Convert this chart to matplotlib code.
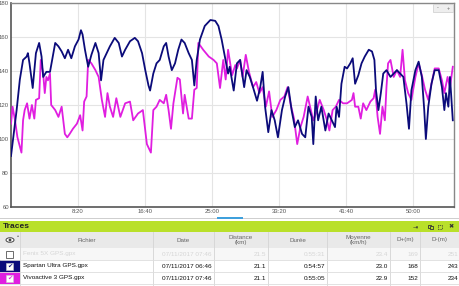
import matplotlib
matplotlib.use("Agg")
import matplotlib.pyplot as plt
from matplotlib.patches import Rectangle, Ellipse, Circle
from matplotlib.ticker import FuncFormatter

plt.rcParams['font.family'] = ['Liberation Sans', 'DejaVu Sans']

# Fréquence cardiaque (minutes, bpm) - Spartan Ultra
spartan_t = [0.0, 0.7, 1.1, 1.5, 1.95, 2.1, 2.3, 2.7, 3.1, 3.5, 3.8, 4.0, 4.4, 4.85,
             5.2, 5.5, 5.9, 6.3, 6.7, 7.1, 7.5, 7.95, 8.4, 8.7, 8.9, 9.2, 9.6, 10.0,
             10.5, 10.9, 11.2, 11.5, 11.9, 12.3, 12.9, 13.4, 13.8, 14.2, 14.8, 15.4,
             15.8, 16.3, 16.7, 17.1, 17.3, 17.7, 18.1, 18.5, 19.0, 19.3, 19.6, 20.0,
             20.4, 20.8, 21.2, 21.6, 22.1, 22.5, 22.8, 23.1, 23.5, 24.1, 24.8, 25.4,
             25.8, 26.2, 26.6, 27.0, 27.2, 27.7, 28.1, 28.5, 29.0, 29.3, 29.7, 30.1,
             30.6, 31.0, 31.3, 31.6, 32.0, 32.4, 32.8, 33.2, 33.7, 34.1, 34.5, 34.9,
             35.3, 35.7, 36.2, 36.6, 37.0, 37.4, 37.6, 37.9, 38.2, 38.6, 39.1, 39.5,
             39.9, 40.3, 40.5, 40.8, 41.1, 41.5, 41.8, 42.2, 42.5, 42.8, 43.2, 43.6,
             44.0, 44.5, 44.9, 45.2, 45.4, 45.7, 46.0, 46.3, 46.7, 47.2, 47.6, 48.0,
             48.4, 48.8, 49.2, 49.5, 49.8, 50.3, 50.7, 51.1, 51.4, 51.6, 51.9, 52.3,
             52.7, 53.2, 53.6, 53.9, 54.1, 54.4, 54.6, 54.95]
spartan_hr = [90, 117, 135, 146.5, 148.5, 150.5, 144.5, 130, 150.5, 156.5, 148.5, 136.5,
              139.5, 139.5, 148.5, 156.5, 154.5, 151.5, 147.5, 152.5, 147.5, 154.5,
              158.5, 164, 161.5, 152.5, 142.5, 149.5, 156.5, 150.5, 134.5, 146.5, 150.5,
              154.5, 159.5, 156.5, 148.5, 152.5, 157.5, 159.5, 157.5, 150.5, 140.5,
              131.5, 128.5, 138.5, 144.5, 146.5, 154.5, 156.5, 148.5, 140.5, 144.5,
              152.5, 158.5, 156.5, 150.5, 146.5, 131.5, 146.5, 158.5, 166.5, 170,
              169.5, 166.5, 158.5, 148.5, 138.5, 142.5, 128.5, 144.5, 146.5, 130.5,
              140.5, 136.5, 130.5, 122.5, 130.5, 139.5, 119, 104, 117, 111, 101, 117,
              125, 130.5, 117, 107, 111, 103, 101, 119, 113, 97, 125, 111, 119, 105,
              115, 111, 107, 119, 113, 132.5, 142.5, 141.5, 144.5, 147.5, 132.5, 137.5,
              144.5, 148.5, 152.5, 151.5, 146.5, 128.5, 117, 127, 138.5, 140.5, 136.5,
              138.5, 140.5, 138.5, 136.5, 120.5, 106, 128.5, 140.5, 145.5, 136.5, 117,
              100, 119, 132.5, 140.5, 140.5, 130.5, 117, 127, 119, 136.5, 111]

# Fréquence cardiaque (minutes, bpm) - Vivoactive 3
vivo_t = [0.0, 0.2, 0.5, 0.8, 1.3, 1.5, 1.7, 2.0, 2.3, 2.6, 2.9, 3.1, 3.5, 3.7, 4.0,
          4.2, 4.4, 4.6, 4.85, 5.0, 5.5, 5.9, 6.3, 6.7, 7.0, 7.3, 7.7, 8.2, 8.6, 8.9,
          9.1, 9.4, 9.6, 10.0, 10.5, 10.9, 11.3, 11.7, 12.0, 12.3, 12.7, 13.1, 13.6,
          14.2, 14.8, 15.2, 15.8, 16.4, 16.9, 17.4, 17.7, 18.1, 18.5, 19.0, 19.3,
          19.6, 19.9, 20.2, 20.7, 21.0, 21.4, 21.6, 22.1, 22.5, 22.8, 23.1, 23.3,
          23.9, 24.6, 25.2, 25.6, 26.0, 26.4, 26.7, 27.0, 27.5, 27.9, 28.1, 28.5,
          28.8, 29.2, 29.6, 30.1, 30.5, 30.9, 31.3, 31.7, 32.1, 32.5, 33.0, 33.5,
          34.0, 34.4, 34.8, 35.2, 35.6, 36.0, 36.4, 36.9, 37.2, 37.6, 38.0, 38.4,
          38.9, 39.3, 39.6, 40.0, 40.4, 40.8, 41.3, 41.8, 42.4, 42.6, 42.8, 43.2,
          43.5, 43.8, 44.2, 44.7, 45.1, 45.3, 45.6, 45.9, 46.2, 46.5, 46.7, 46.9,
          47.2, 47.6, 48.0, 48.4, 48.7, 49.0, 49.4, 49.8, 50.3, 50.7, 51.1, 51.5,
          51.9, 52.3, 52.7, 53.2, 53.6, 53.9, 54.3, 54.6, 54.95]
vivo_hr = [109, 119, 111, 101, 92, 111, 117, 121, 112, 120, 112, 123, 124, 146.5, 138.5,
           127, 136.5, 134.5, 138.5, 120, 117, 113, 119, 103, 101, 103, 106, 109, 114,
           105, 122, 125, 146.5, 144.5, 140.5, 136.5, 123, 113, 127, 119, 113, 124,
           113, 121, 122, 111, 115, 117, 97, 92, 117, 119, 123, 121, 126, 117, 106,
           121, 136, 135, 115, 126, 112, 112, 129, 130, 156.5, 152.5, 148.5, 146.5,
           144.5, 130, 146.5, 135, 152.5, 137.5, 143.5, 141.5, 146.5, 136.5, 149.5,
           139.5, 130.5, 133.5, 127, 130.5, 119, 128, 113, 117, 123, 125, 130.5, 120,
           112, 97, 107, 113, 125, 119, 111, 116, 123, 117, 111, 105, 117, 119, 123,
           121, 121, 123, 127, 119, 119, 112, 121, 117, 122, 124, 129, 113, 103, 119,
           111, 130.5, 144.5, 146.5, 136.5, 140.5, 136.5, 152.5, 134.5, 127, 123,
           136.5, 144.5, 137.5, 129, 123, 132.5, 141.5, 141.5, 134.5, 127, 136.5,
           130.5, 142.5]

y_ticks = [60, 80, 100, 120, 140, 160, 180]
x_ticks_s = [500, 1000, 1500, 2000, 2500, 3000]

columns = ['Fichier', 'Date', 'Distance\n(km)', 'Durée', 'Moyenne\n(km/h)', 'D+(m)', 'D-(m)']
files = ['Fenix 5X GPS.gpx', 'Spartan Ultra GPS.gpx', 'Vivoactive 3 GPS.gpx']
dates = ['07/11/2017 07:46', '07/11/2017 06:46', '07/11/2017 07:46']
distances = ['21.5', '21.1', '21.1']
durations = ['0:55:31', '0:54:57', '0:55:05']
speeds = ['23.4', '23.0', '22.9']
d_plus = ['169', '168', '152']
d_minus = ['251', '243', '234']
row_colors = [None, '#0b0b7a', '#e01ee0']

W, H = 460, 286
fig = plt.figure(figsize=(W / 100, H / 100), dpi=100)

# --- graphique ---
ax = fig.add_axes([11 / W, 1 - 207 / H, 443 / W, 204 / H])
ax.plot(vivo_t, vivo_hr, color='#e01ee0', lw=1.3, zorder=3)
ax.plot(spartan_t, spartan_hr, color='#0b0b7a', lw=1.3, zorder=4)
ax.set_xlim(0, 55.1)
ax.set_ylim(60, 180)
ax.set_yticks(y_ticks)
ax.set_xticks([s / 60 for s in x_ticks_s])
ax.xaxis.set_major_formatter(FuncFormatter(lambda v, p: '%d:%02d' % (int(round(v * 60)) // 60, int(round(v * 60)) % 60)))
ax.tick_params(length=0, labelsize=4.3, labelcolor='#555555', pad=1.5)
ax.grid(color='#e4e4e4', lw=0.8)
ax.set_axisbelow(True)
for s in ['left', 'bottom']:
    ax.spines[s].set_color('#555555')
    ax.spines[s].set_linewidth(1.2)
for s in ['top', 'right']:
    ax.spines[s].set_color('#888888')
    ax.spines[s].set_linewidth(1.0)

# --- panneau du bas (coordonnées pixels) ---
ov = fig.add_axes([0, 0, 1, 1], zorder=5)
ov.set_xlim(0, W)
ov.set_ylim(H, 0)
ov.axis('off')
ov.patch.set_alpha(0)

# boutons zoom
ov.add_patch(Rectangle((433, 4), 20, 8, fc='#eeeeee', ec='#cccccc', lw=0.5))
ov.text(438, 8, '-', fontsize=4, color='#666666', ha='center', va='center')
ov.text(448, 8, '+', fontsize=4, color='#666666', ha='center', va='center')

# barre de défilement
ov.add_patch(Rectangle((0, 217.5), W, 1.5, fc='#cfcfcf', ec='none'))
ov.add_patch(Rectangle((217, 216.5), 26, 2.5, fc='#3fa0dc', ec='none'))

# bandeau "Traces"
ov.add_patch(Rectangle((0, 221), W, 11, fc='#b9e02a', ec='none'))
ov.text(3, 226.5, 'Traces', fontsize=6, fontweight='bold', color='#222222', va='center')
ov.text(415, 226.5, '\u21e5', fontsize=4.5, color='#333333', va='center', ha='center', family=['DejaVu Sans'])
ov.add_patch(Rectangle((428, 224.5), 3, 3, fc='none', ec='#333333', lw=0.6))
ov.add_patch(Rectangle((430, 226), 3, 3, fc='#b9e02a', ec='#333333', lw=0.6))
ov.add_patch(Rectangle((438.5, 224.5), 4, 4, fc='none', ec='#333333', lw=0.6, ls=(0, (1, 1))))
ov.text(451, 226.5, '\u2716', fontsize=4.5, color='#333333', va='center', ha='center', family=['DejaVu Sans'])

# en-tête du tableau
col_edges = [0, 20, 153, 214, 268, 327, 390, 420, 460]
ov.add_patch(Rectangle((0, 232), W, 16, fc='#e9e9e9', ec='none'))
for xe in col_edges[1:-1]:
    ov.plot([xe, xe], [232, 285], color='#d4d4d4', lw=0.6)
# icône oeil
ov.add_patch(Ellipse((10, 240), 8, 4.5, fc='white', ec='#444444', lw=0.7))
ov.add_patch(Circle((10, 240), 1.4, fc='#444444', ec='none'))
ov.text(18, 235, '\u25b4', fontsize=3, color='#777777', ha='center', va='center', family=['DejaVu Sans'])
for i, c in enumerate(columns):
    ov.text((col_edges[i + 1] + col_edges[i + 2]) / 2, 240, c, fontsize=4.5,
            color='#666666', ha='center', va='center', linespacing=1.0)

# lignes du tableau
row_y = [248, 260, 272]
for r in range(3):
    y0 = row_y[r]
    ov.add_patch(Rectangle((20, y0), W - 20, 12, fc='#f7f7f7' if r == 0 else 'white', ec='none', zorder=0))
    ov.plot([0, W], [y0 + 12, y0 + 12], color='#dddddd', lw=0.6)
    tc = '#d6d6d6' if r == 0 else '#111111'
    yc = y0 + 6
    if row_colors[r] is None:
        ov.add_patch(Rectangle((6, yc - 3.5), 7, 7, fc='white', ec='#555555', lw=0.6))
    else:
        ov.add_patch(Rectangle((0, y0), 20, 12, fc=row_colors[r], ec='none'))
        ov.add_patch(Rectangle((6, yc - 3.5), 7, 7, fc='white', ec='#cccccc', lw=0.4))
        ov.text(9.5, yc, '\u2714', fontsize=4.5, color=row_colors[r], ha='center', va='center', family=['DejaVu Sans'])
    ov.text(23, yc, files[r], fontsize=4.6, color=tc, va='center')
    vals = [dates[r], distances[r], durations[r], speeds[r], d_plus[r], d_minus[r]]
    for j, v in enumerate(vals):
        ov.text(col_edges[j + 3] - 2, yc, v, fontsize=4.6, color=tc, va='center', ha='right')

fig.savefig('out.png', dpi=100)
